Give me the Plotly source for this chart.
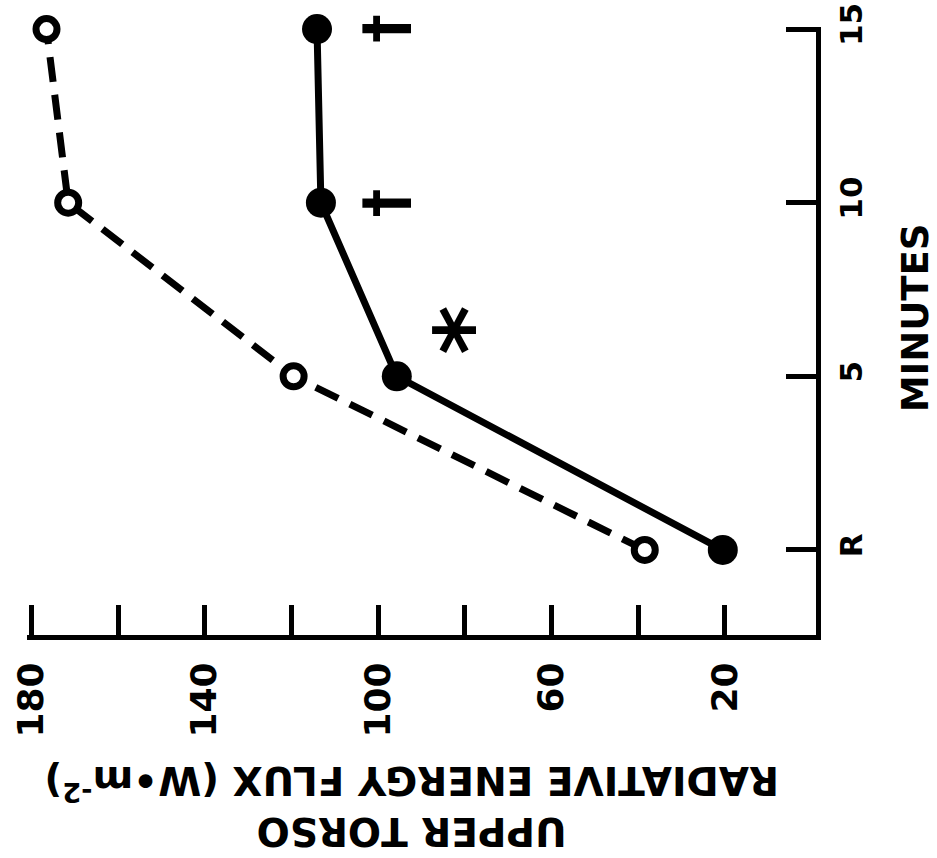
import plotly.graph_objects as go

# ---- data ----
minutes = [0, 5, 10, 15]
minute_labels = ["R", "5", "10", "15"]
flux_open = [38.5, 119.5, 171.5, 176.5]     # dashed line, open circles
flux_filled = [20.5, 95.7, 113.2, 114.1]    # solid line, filled circles
flux_ticks = [20, 40, 60, 80, 100, 120, 140, 160, 180]
flux_tick_labels = ["20", "", "60", "", "100", "", "140", "", "180"]
sig_minutes = [5, 10, 15]
sig_marks = ["*", "†", "†"]

FONT = "DejaVu Sans"

fig = go.Figure()

fig.add_trace(go.Scatter(
    x=flux_open, y=minutes, mode="lines+markers",
    line=dict(color="black", width=7, dash="25px,13px"),
    marker=dict(symbol="circle", size=21, color="white",
                line=dict(color="black", width=7)),
    showlegend=False, hoverinfo="skip", cliponaxis=False))

fig.add_trace(go.Scatter(
    x=flux_filled, y=minutes, mode="lines+markers",
    line=dict(color="black", width=7),
    marker=dict(symbol="circle", size=30, color="black",
                line=dict(color="black", width=0)),
    showlegend=False, hoverinfo="skip", cliponaxis=False))

# significance marks beside the filled series
shifts = {5: (73, 46), 10: (64, 0), 15: (68, 0)}
for m, s in zip(sig_minutes, sig_marks):
    i = minutes.index(m)
    xs, ys = shifts[m]
    fig.add_annotation(
        x=flux_filled[i], y=m, xref="x", yref="y", text=s, showarrow=False,
        textangle=-90, xshift=xs, yshift=ys,
        xanchor="center", yanchor="middle",
        font=dict(family=FONT, size=95 if s == "*" else 58,
                  color="black", weight="bold"))

fig.update_xaxes(
    range=[181, -1], tickvals=flux_ticks, ticktext=flux_tick_labels,
    tickangle=-90, ticks="inside", ticklen=30, tickwidth=5, tickcolor="black",
    showline=True, linewidth=5, linecolor="black", showgrid=False,
    zeroline=False, ticklabelstandoff=8, automargin=False,
    tickfont=dict(family=FONT, size=36, color="black", weight="bold"))

fig.update_yaxes(
    range=[-2.45, 15.06], side="right", tickvals=minutes,
    ticktext=minute_labels, tickangle=-90, ticks="inside", ticklen=30,
    tickwidth=5, tickcolor="black", showline=True, linewidth=5,
    linecolor="black", showgrid=False, zeroline=False, ticklabelstandoff=4,
    automargin=False,
    tickfont=dict(family=FONT, size=31, color="black", weight="bold"))

# axis titles (figure is rotated 90 degrees counter-clockwise)
fig.add_annotation(
    x=1.1255, y=0.521, xref="paper", yref="paper", showarrow=False,
    xanchor="center", yanchor="middle",
    text="MINUTES", textangle=-90,
    font=dict(family=FONT, size=37, color="black", weight="bold"))
fig.add_annotation(
    x=0.488, y=-0.281, xref="paper", yref="paper", showarrow=False,
    xanchor="center", yanchor="middle",
    text="UPPER TORSO<br>RADIATIVE ENERGY FLUX (W•m<sup>-2</sup>)",
    textangle=180,
    font=dict(family=FONT, size=39, color="black", weight="bold"))

fig.update_layout(
    width=937, height=858,
    margin=dict(l=27, r=121, t=27, b=223),
    paper_bgcolor="white", plot_bgcolor="white",
    showlegend=False)

fig.write_html("out.html")
